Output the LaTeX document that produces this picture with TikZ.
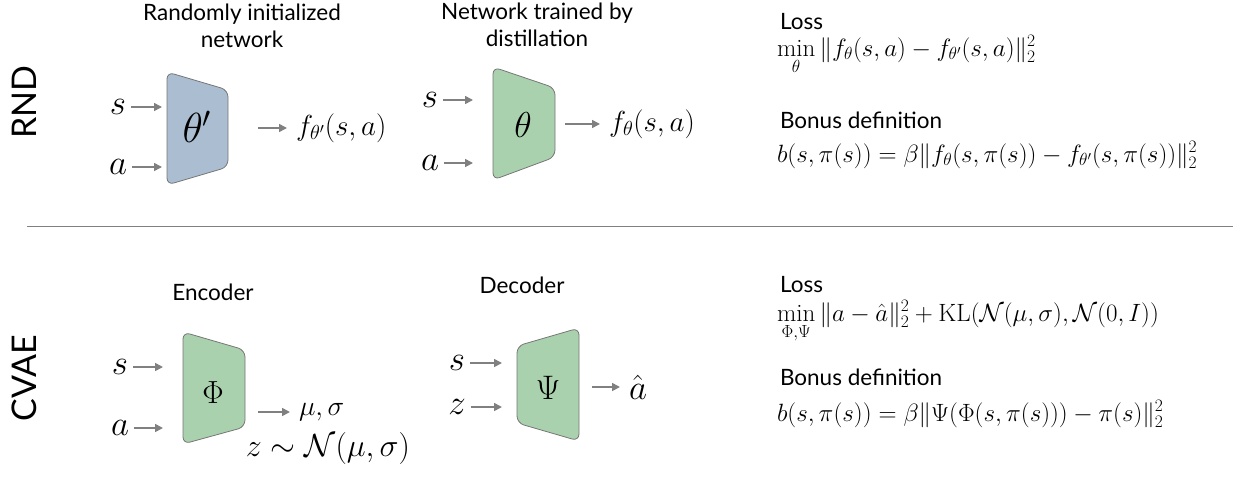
\documentclass[tikz,border=0pt]{standalone}
\usepackage{fix-cm}
\usepackage{amsmath}
\usepackage{fontspec}
\newfontfamily\labelfont{Lato}
\usetikzlibrary{arrows.meta}
\definecolor{netblue}{RGB}{171,189,209}
\definecolor{netgreen}{RGB}{170,209,173}
\definecolor{edgegray}{RGB}{118,118,118}
\definecolor{arrgray}{RGB}{128,128,128}

\begin{document}
\begin{tikzpicture}[x=1pt,y=-1pt,
  every node/.style={inner sep=0pt, outer sep=0pt},
  net/.style={draw=edgegray, line width=0.8pt, rounded corners=7pt},
  arr/.style={draw=arrgray, line width=1.6pt, -{Triangle[length=8pt,width=8pt]}},
  title/.style={font=\labelfont\fontsize{22.5}{27}\selectfont, align=center},
  side/.style={font=\labelfont\fontsize{34}{40}\selectfont, rotate=90},
  txt/.style={font=\labelfont\fontsize{22.5}{26}\selectfont, anchor=base west},
  eq/.style={font=\fontsize{25}{28}\selectfont, anchor=base west},
  inp/.style={font=\fontsize{35}{40}\selectfont, outer sep=5pt},
  outp/.style={font=\fontsize{29}{33}\selectfont, outer sep=9pt, anchor=west}]
\useasboundingbox (0,0) rectangle (1233,482);

\node[side] (rnd) at (24,102) {RND};
\node[side] (cvae) at (24,378) {CVAE};
\draw[draw=arrgray, line width=0.8pt] (27,226) -- (1233,226);

\node[title] (t1) at (242,26) {Randomly initialized\\network};
\draw[net, fill=netblue] (167,72) -- (228,90) -- (228,167) -- (167,185) -- cycle;
\node[font=\fontsize{42}{46}\selectfont] (th1) at (197,127) {$\theta'$};
\node[inp] (s1) at (118,107) {$s$};
\node[inp] (a1) at (118,167) {$a$};
\coordinate (s1e) at (162,107);
\coordinate (a1e) at (162,167);
\coordinate (o1) at (258,128);
\node[outp] (f1) at (287,128) {$f_{\theta'}(s,a)$};
\draw[arr] (s1) -- (s1e);
\draw[arr] (a1) -- (a1e);
\draw[arr] (o1) -- (f1);

\node[title] (t2) at (537,25) {Network trained by\\distillation};
\draw[net, fill=netgreen] (493,67) -- (555,88) -- (555,157) -- (493,180) -- cycle;
\node[font=\fontsize{36}{40}\selectfont] (th2) at (523,125) {$\theta$};
\node[inp] (s2) at (430,100) {$s$};
\node[inp] (a2) at (430,163) {$a$};
\coordinate (s2e) at (473,100);
\coordinate (a2e) at (473,163);
\coordinate (o2) at (565,124);
\node[outp] (f2) at (600,124) {$f_{\theta}(s,a)$};
\draw[arr] (s2) -- (s2e);
\draw[arr] (a2) -- (a2e);
\draw[arr] (o2) -- (f2);

\node[txt] (loss1) at (780,29) {Loss};
\node[eq] (lq1) at (777,56) {$\min\limits_{\theta}\|f_{\theta}(s,a)-f_{\theta'}(s,a)\|_2^2$};
\node[txt] (bon1) at (780,128) {Bonus definition};
\node[eq] (bq1) at (777,162) {$b(s,\pi(s))=\beta\|f_{\theta}(s,\pi(s))-f_{\theta'}(s,\pi(s))\|_2^2$};

\node[title] (t3) at (213,292) {Encoder};
\draw[net, fill=netgreen] (183,332) -- (245,350) -- (245,427) -- (183,444) -- cycle;
\node[font=\fontsize{32}{36}\selectfont] (phi) at (213,393) {$\Phi$};
\node[inp] (s3) at (120,367) {$s$};
\node[inp] (a3) at (120,428) {$a$};
\coordinate (s3e) at (163,367);
\coordinate (a3e) at (163,428);
\coordinate (o3) at (258,412);
\node[outp, font=\fontsize{28}{32}\selectfont] (mu3) at (290,412) {$\mu,\sigma$};
\node[font=\fontsize{32}{36}\selectfont] (z3) at (328,448) {$z\sim\mathcal{N}(\mu,\sigma)$};
\draw[arr] (s3) -- (s3e);
\draw[arr] (a3) -- (a3e);
\draw[arr] (o3) -- (mu3);

\node[title] (t4) at (522,285) {Decoder};
\draw[net, fill=netgreen] (517,346) -- (579,328) -- (579,441) -- (517,423) -- cycle;
\node[font=\fontsize{34}{38}\selectfont] (psi) at (548,388) {$\Psi$};
\node[inp] (s4) at (457,363) {$s$};
\node[inp] (z4) at (457,407) {$z$};
\coordinate (s4e) at (502,363);
\coordinate (z4e) at (502,407);
\coordinate (o4) at (592,387);
\node[outp, font=\fontsize{35}{40}\selectfont] (ah) at (620,387) {$\hat{a}$};
\draw[arr] (s4) -- (s4e);
\draw[arr] (z4) -- (z4e);
\draw[arr] (o4) -- (ah);

\node[txt] (loss2) at (780,292) {Loss};
\node[eq] (lq2) at (777,321) {$\min\limits_{\Phi,\Psi}\|a-\hat{a}\|_2^2+\mathrm{KL}(\mathcal{N}(\mu,\sigma),\mathcal{N}(0,I))$};
\node[txt] (bon2) at (780,385) {Bonus definition};
\node[eq] (bq2) at (777,421) {$b(s,\pi(s))=\beta\|\Psi(\Phi(s,\pi(s)))-\pi(s)\|_2^2$};
\end{tikzpicture}
\end{document}
